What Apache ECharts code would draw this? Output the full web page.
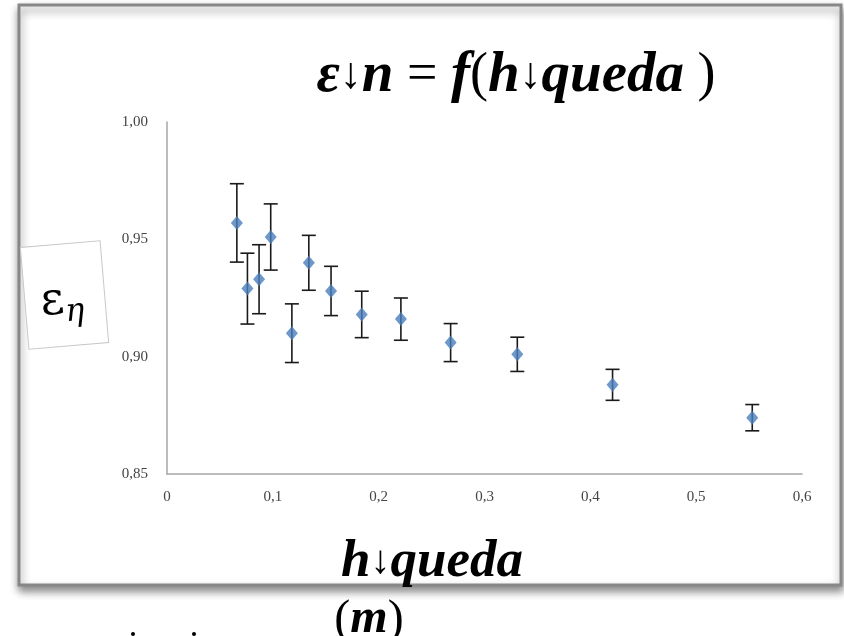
<!DOCTYPE html>
<html>
<head>
<meta charset="utf-8">
<script src="https://cdn.jsdelivr.net/npm/echarts@6/dist/echarts.min.js"></script>
<style>
  html, body { margin: 0; padding: 0; background: #fff; }
  #chart { width: 844px; height: 636px; }
</style>
</head>
<body>
<div id="chart"></div>
<script>
// h queda (m)
const hQueda = [0.066, 0.076, 0.087, 0.098, 0.118, 0.134, 0.155, 0.184, 0.221, 0.268, 0.331, 0.421, 0.553]
// efficiency eps_n
const epsN = [0.957, 0.929, 0.933, 0.951, 0.910, 0.940, 0.928, 0.918, 0.916, 0.906, 0.901, 0.888, 0.874]
// half-height of the error bars
const epsErr = [0.0167, 0.0151, 0.0147, 0.0141, 0.0125, 0.0117, 0.0105, 0.0099, 0.0090, 0.0081, 0.0073, 0.0066, 0.0056]
const xTickLabels = ['0', '0,1', '0,2', '0,3', '0,4', '0,5', '0,6']
const yTickLabels = ['0,85', '0,90', '0,95', '1,00']

const serif = '"Liberation Serif", "DejaVu Serif", serif'

const points = hQueda.map((x, i) => [x, epsN[i]])
const bars = hQueda.map((x, i) => [x, epsN[i] - epsErr[i], epsN[i] + epsErr[i]])

const chart = echarts.init(document.getElementById('chart'))

chart.setOption({
  backgroundColor: '#fff',
  animation: false,
  grid: {
    left: 167,
    right: 42,
    top: 122,
    bottom: 162
  },
  xAxis: {
    type: 'value',
    min: 0,
    max: 0.6,
    interval: 0.1,
    axisLine: { lineStyle: { color: '#a6a6a6', width: 1.5 } },
    axisTick: { show: false },
    splitLine: { show: false },
    axisLabel: {
      margin: 16,
      color: '#444',
      fontFamily: serif,
      fontSize: 15,
      formatter: v => xTickLabels[Math.round(v * 10)]
    }
  },
  yAxis: {
    type: 'value',
    min: 0.85,
    max: 1.0,
    interval: 0.05,
    axisLine: { show: true, lineStyle: { color: '#a6a6a6', width: 1.5 } },
    axisTick: { show: false },
    splitLine: { show: false },
    axisLabel: {
      margin: 19,
      color: '#444',
      fontFamily: serif,
      fontSize: 15,
      formatter: v => yTickLabels[Math.round((v - 0.85) * 20)]
    }
  },
  graphic: [
    // outer frame
    {
      type: 'rect',
      z: -10,
      shape: { x: 19, y: 5, width: 822, height: 580 },
      style: {
        fill: '#fff',
        stroke: '#878787',
        lineWidth: 3,
        shadowBlur: 8,
        shadowOffsetY: 5,
        shadowOffsetX: 1,
        shadowColor: 'rgba(0,0,0,0.45)'
      }
    },
    // title
    {
      type: 'text',
      z: 10,
      x: 516,
      y: 76,
      style: {
        text: '{a|ε}{r|↓}{a|n}{p| = }{a|f}{p|(}{a|h}{r|↓}{a|queda}{p| )}',
        align: 'center',
        verticalAlign: 'middle',
        rich: {
          a: { fontFamily: serif, fontStyle: 'italic', fontWeight: 'bold', fontSize: 57, fill: '#000' },
          r: { fontFamily: serif, fontSize: 44, fill: '#000' },
          p: { fontFamily: serif, fontSize: 54, fill: '#000' }
        }
      }
    },
    // y label box
    {
      type: 'group',
      z: 10,
      x: 64.5,
      y: 295,
      rotation: 0.084,
      children: [
        {
          type: 'rect',
          shape: { x: -40, y: -51, width: 80, height: 102 },
          style: { fill: '#fff', stroke: '#c8c8c8', lineWidth: 1 }
        },
        {
          type: 'text',
          x: -3,
          y: 6,
          style: {
            text: '{e|ɛ}{s|η}',
            align: 'center',
            verticalAlign: 'middle',
            rich: {
              e: { fontFamily: '"DejaVu Serif", serif', fontSize: 46, fill: '#000' },
              s: { fontFamily: '"DejaVu Serif", serif', fontStyle: 'italic', fontSize: 32, fill: '#000', padding: [24, 0, 0, 0] }
            }
          }
        }
      ]
    },
    // x axis name
    {
      type: 'text',
      z: 20,
      x: 432,
      y: 562,
      style: {
        text: '{a|h}{r|↓}{a|queda}',
        align: 'center',
        verticalAlign: 'middle',
        rich: {
          a: { fontFamily: serif, fontStyle: 'italic', fontWeight: 'bold', fontSize: 53, fill: '#000' },
          r: { fontFamily: serif, fontSize: 40, fill: '#000' }
        }
      }
    },
    {
      type: 'text',
      z: 20,
      x: 369,
      y: 620,
      style: {
        text: '{p|(}{a|m}{p|)}',
        align: 'center',
        verticalAlign: 'middle',
        rich: {
          a: { fontFamily: serif, fontStyle: 'italic', fontWeight: 'bold', fontSize: 48, fill: '#000' },
          p: { fontFamily: serif, fontSize: 48, fill: '#000' }
        }
      }
    },
    { type: 'circle', z: 20, shape: { cx: 133, cy: 634, r: 2 }, style: { fill: '#000' } },
    { type: 'circle', z: 20, shape: { cx: 194, cy: 634, r: 2 }, style: { fill: '#000' } }
  ],
  series: [
    {
      type: 'custom',
      z: 3,
      data: bars,
      renderItem: (params, api) => {
        const x = api.value(0)
        const lo = api.coord([x, api.value(1)])
        const hi = api.coord([x, api.value(2)])
        const cap = 7
        const style = { stroke: '#1a1a1a', lineWidth: 1.6 }
        return {
          type: 'group',
          children: [
            { type: 'line', shape: { x1: lo[0], y1: lo[1], x2: hi[0], y2: hi[1] }, style },
            { type: 'line', shape: { x1: lo[0] - cap, y1: lo[1], x2: lo[0] + cap, y2: lo[1] }, style },
            { type: 'line', shape: { x1: hi[0] - cap, y1: hi[1], x2: hi[0] + cap, y2: hi[1] }, style }
          ]
        }
      }
    },
    {
      type: 'scatter',
      z: 4,
      data: points,
      symbol: 'diamond',
      symbolSize: [12, 14],
      itemStyle: { color: '#4A7EBB' }
    }
  ]
})
</script>
</body>
</html>
